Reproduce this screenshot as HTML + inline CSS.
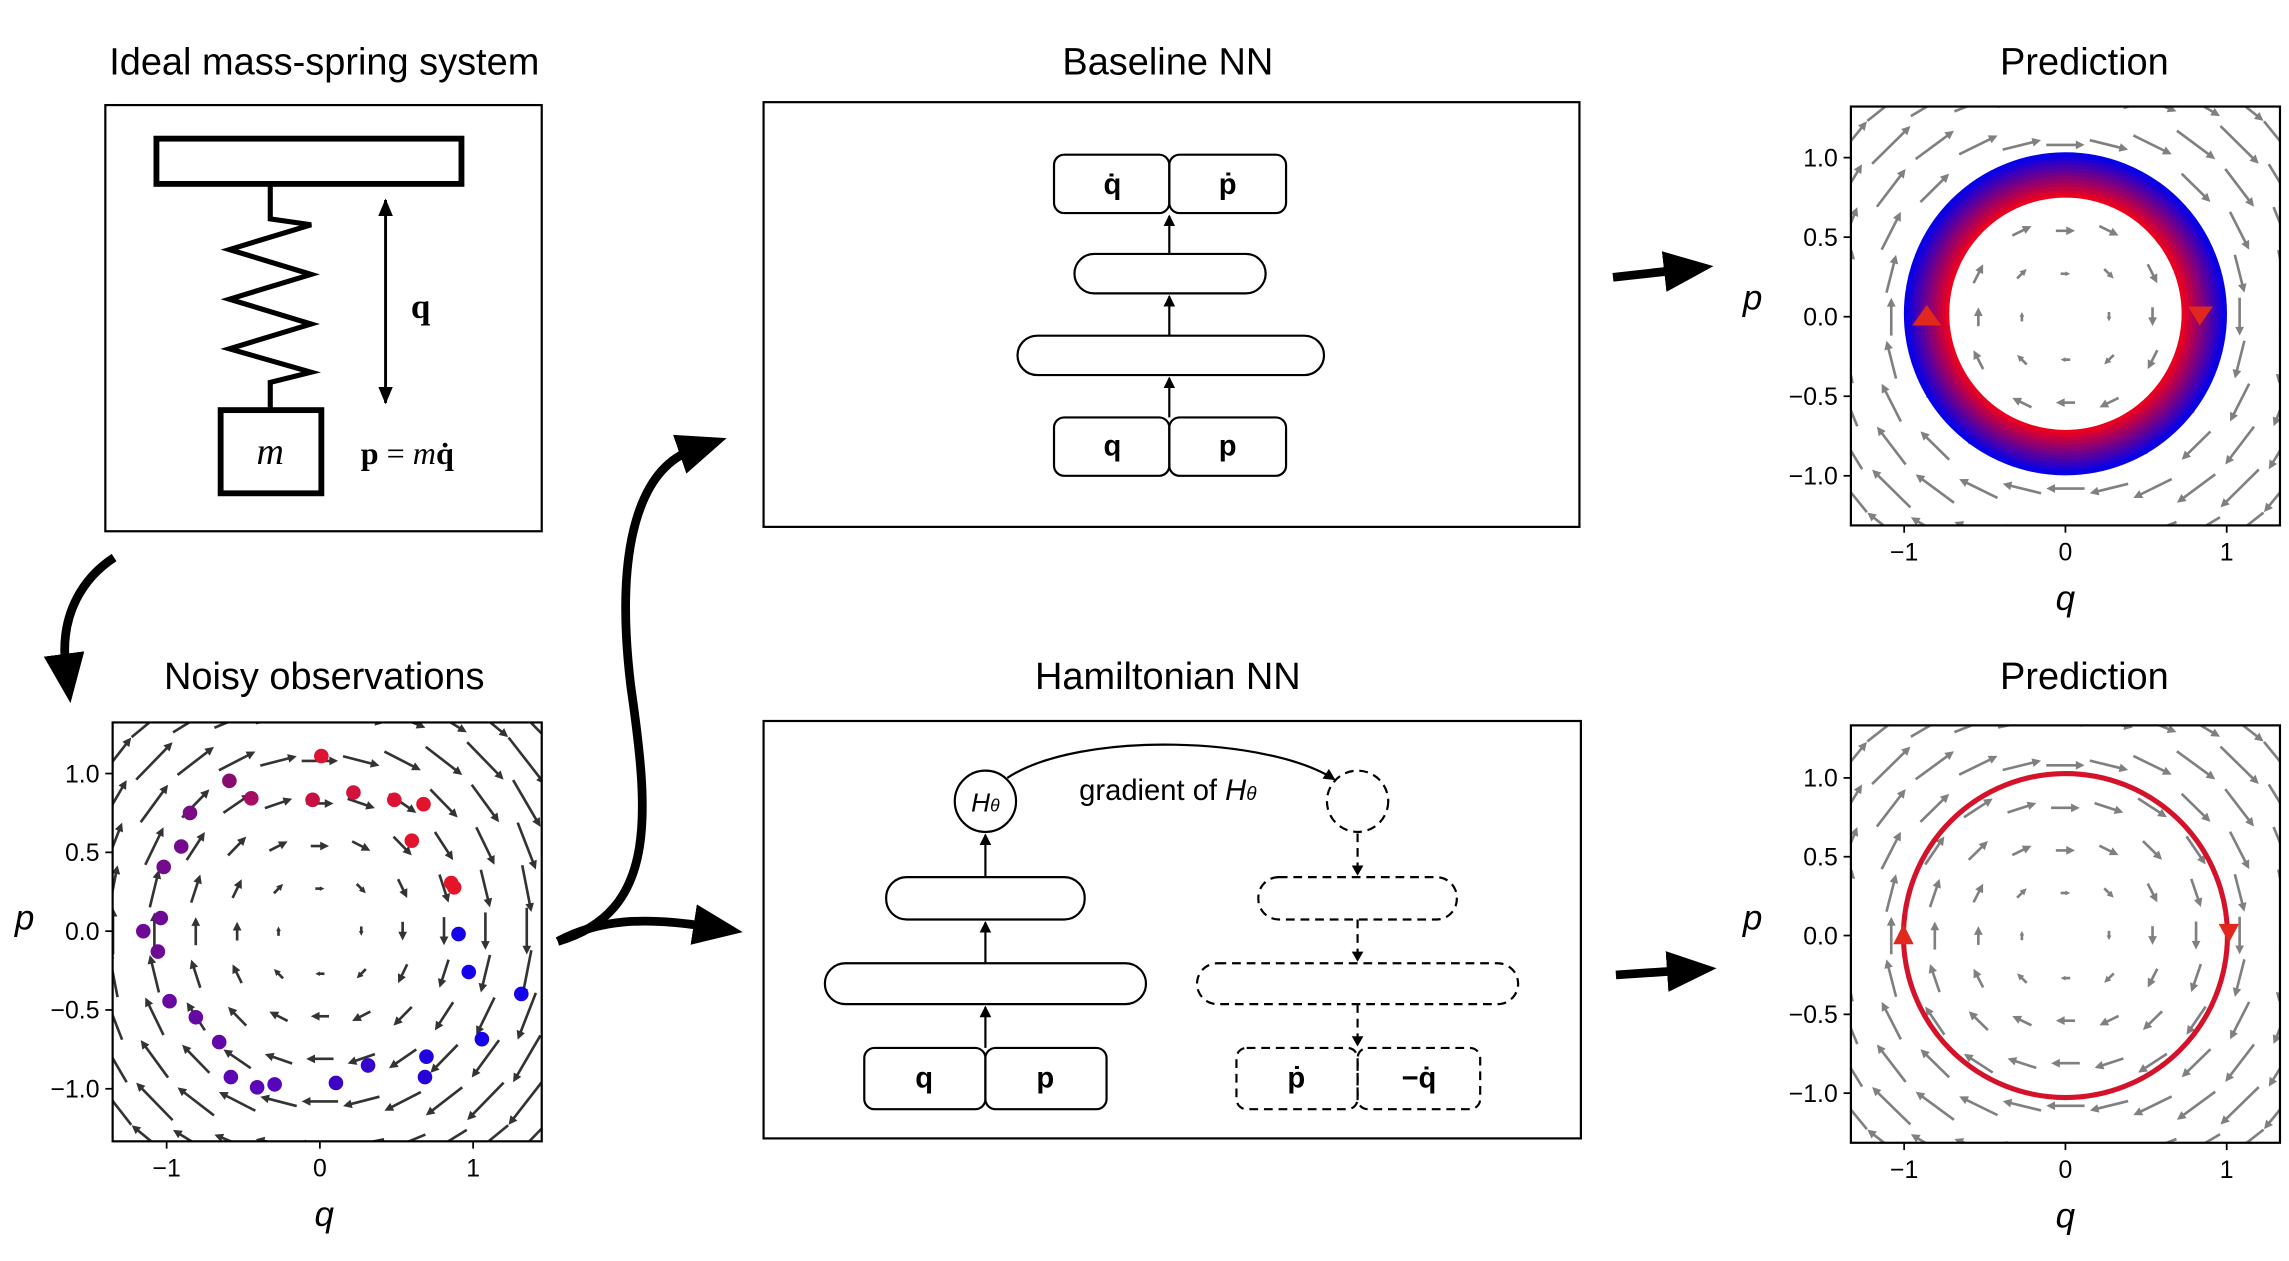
<!DOCTYPE html>
<html><head><meta charset="utf-8"><style>
html,body{margin:0;padding:0;background:#fff;}
svg{display:block;}
text{font-family:"Liberation Sans",sans-serif;}
.t{font-size:26px;text-anchor:middle;}
.tk{font-size:17px;}
.m{font-family:"Liberation Serif",serif;}
</style></head><body>
<svg id="s" width="2289" height="1261" viewBox="0 0 1568 864" xmlns="http://www.w3.org/2000/svg">
<defs>
<marker id="ah" markerWidth="8" markerHeight="8" refX="7" refY="4" orient="auto" markerUnits="userSpaceOnUse"><path d="M0,0 L8,4 L0,8 z" fill="#000"/></marker>
<marker id="ah2" markerWidth="12" markerHeight="12" refX="11" refY="6" orient="auto-start-reverse" markerUnits="userSpaceOnUse"><path d="M0,1 L12,6 L0,11 z" fill="#000"/></marker>
<marker id="big" markerWidth="36" markerHeight="36" refX="10" refY="18" orient="auto" markerUnits="userSpaceOnUse"><path d="M0,4 L34,18 L0,32 z" fill="#000"/></marker>
<clipPath id="c1"><rect x="77" y="495" width="294" height="287"/></clipPath>
<clipPath id="c2"><rect x="1268" y="73" width="294" height="287"/></clipPath>
<clipPath id="c3"><rect x="1268" y="497" width="294" height="286"/></clipPath>
</defs>
<rect width="1568" height="864" fill="#fff"/>

<!-- Mass spring -->
<text class="t" x="222" y="51">Ideal mass-spring system</text>
<rect x="72" y="72" width="299" height="292" fill="none" stroke="#000" stroke-width="1.5"/>
<rect x="107" y="95" width="209" height="31" fill="none" stroke="#000" stroke-width="4"/>
<polyline points="185,126 185,150 213,154 157,171 213,188 157,205 213,222 157,239 213,255 185,262 185,281" fill="none" stroke="#000" stroke-width="3.5"/>
<rect x="151" y="281" width="69" height="57" fill="none" stroke="#000" stroke-width="4"/>
<text class="m" x="185" y="318" font-size="26" font-style="italic" text-anchor="middle">m</text>
<line x1="264" y1="137" x2="264" y2="276" stroke="#000" stroke-width="2" marker-start="url(#ah2)" marker-end="url(#ah2)"/>
<text class="m" x="288" y="218" font-size="24" font-weight="bold" text-anchor="middle">q</text>
<text class="m" x="247" y="318" font-size="22"><tspan font-weight="bold">p</tspan> = <tspan font-style="italic">m</tspan><tspan font-weight="bold">q̇</tspan></text>

<path d="M78,382 C58,395 40,420 45,458" fill="none" stroke="#000" stroke-width="6" marker-end="url(#big)"/>

<!-- Noisy -->
<text class="t" x="222" y="472">Noisy observations</text>
<g id="p1" clip-path="url(#c1)"></g>
<rect x="77" y="495" width="294" height="287" fill="none" stroke="#000" stroke-width="1.5"/>
<text x="222" y="840" font-size="24" font-style="italic" text-anchor="middle">q</text>
<text x="10" y="637" font-size="24" font-style="italic">p</text>

<path d="M382,645 C450,625 445,560 432,470 C420,370 440,320 475,308" fill="none" stroke="#000" stroke-width="6" marker-end="url(#big)"/>
<path d="M382,645 C410,630 440,628 485,635" fill="none" stroke="#000" stroke-width="6" marker-end="url(#big)"/>

<!-- Baseline NN -->
<text class="t" x="800" y="51">Baseline NN</text>
<rect x="523" y="70" width="559" height="291" fill="none" stroke="#000" stroke-width="1.5"/>
<g fill="none" stroke="#000" stroke-width="1.5">
<rect x="722" y="106" width="79" height="40" rx="7"/><rect x="801" y="106" width="80" height="40" rx="7"/>
<rect x="736" y="174" width="131" height="27" rx="13.5"/>
<rect x="697" y="230" width="210" height="27" rx="13.5"/>
<rect x="722" y="286" width="79" height="40" rx="7"/><rect x="801" y="286" width="80" height="40" rx="7"/>
<line x1="801" y1="286" x2="801" y2="259" marker-end="url(#ah)"/>
<line x1="801" y1="230" x2="801" y2="203" marker-end="url(#ah)"/>
<line x1="801" y1="174" x2="801" y2="148" marker-end="url(#ah)"/>
</g>
<g class="m" font-size="20" font-weight="bold" text-anchor="middle">
<text x="762" y="133">q̇</text><text x="841" y="133">ṗ</text>
<text x="762" y="312">q</text><text x="841" y="312">p</text>
</g>

<!-- Hamiltonian NN -->
<text class="t" x="800" y="472">Hamiltonian NN</text>
<rect x="523" y="494" width="560" height="286" fill="none" stroke="#000" stroke-width="1.5"/>
<g fill="none" stroke="#000" stroke-width="1.5">
<circle cx="675" cy="549" r="21"/>
<rect x="607" y="601" width="136" height="29" rx="14"/>
<rect x="565" y="660" width="220" height="28" rx="14"/>
<rect x="592" y="718" width="83" height="42" rx="7"/><rect x="675" y="718" width="83" height="42" rx="7"/>
<line x1="675" y1="718" x2="675" y2="690" marker-end="url(#ah)"/>
<line x1="675" y1="660" x2="675" y2="632" marker-end="url(#ah)"/>
<line x1="675" y1="601" x2="675" y2="572" marker-end="url(#ah)"/>
<path d="M690,533 C740,500 870,505 914,534" marker-end="url(#ah)"/>
<g stroke-dasharray="6,4">
<circle cx="930" cy="549" r="21"/>
<rect x="862" y="601" width="136" height="29" rx="14"/>
<rect x="820" y="660" width="220" height="28" rx="14"/>
<rect x="847" y="718" width="83" height="42" rx="7"/><rect x="930" y="718" width="84" height="42" rx="7"/>
<line x1="930" y1="571" x2="930" y2="599"/>
<line x1="930" y1="630" x2="930" y2="658"/>
<line x1="930" y1="688" x2="930" y2="716"/>
</g>
<path d="M926,593 L930,600 L934,593" fill="#000" stroke="none"/>
<path d="M926,652 L930,659 L934,652" fill="#000" stroke="none"/>
<path d="M926,710 L930,717 L934,710" fill="#000" stroke="none"/>
</g>
<g class="m" font-size="20" text-anchor="middle">
<text x="675" y="556" font-style="italic" font-size="18">H<tspan font-size="12">θ</tspan></text>
<text x="800" y="548">gradient of <tspan font-style="italic">H</tspan><tspan font-style="italic" font-size="13">θ</tspan></text>
<text x="633" y="745" font-weight="bold">q</text><text x="716" y="745" font-weight="bold">p</text>
<text x="888" y="745" font-weight="bold">ṗ</text><text x="972" y="745" font-weight="bold">−q̇</text>
</g>

<line x1="1105" y1="190" x2="1150" y2="185" stroke="#000" stroke-width="6" marker-end="url(#big)"/>
<line x1="1107" y1="668" x2="1152" y2="665" stroke="#000" stroke-width="6" marker-end="url(#big)"/>

<!-- Predictions -->
<text class="t" x="1428" y="51">Prediction</text>
<g id="p2" clip-path="url(#c2)"></g>
<rect x="1268" y="73" width="294" height="287" fill="none" stroke="#000" stroke-width="1.5"/>
<text x="1415" y="418" font-size="24" font-style="italic" text-anchor="middle">q</text>
<text x="1194" y="212" font-size="24" font-style="italic">p</text>

<text class="t" x="1428" y="472">Prediction</text>
<g id="p3" clip-path="url(#c3)"></g>
<rect x="1268" y="497" width="294" height="286" fill="none" stroke="#000" stroke-width="1.5"/>
<text x="1415" y="841" font-size="24" font-style="italic" text-anchor="middle">q</text>
<text x="1194" y="637" font-size="24" font-style="italic">p</text>
</svg>
<script>
var NS="http://www.w3.org/2000/svg";
function el(p,t,a){var e=document.createElementNS(NS,t);for(var k in a)e.setAttribute(k,a[k]);p.appendChild(e);return e;}
function plot(id,x0,y0,sx,sy,L,T,R,B,col){
 var g=document.getElementById(id);
 for(var i=0;i<11;i++)for(var j=0;j<11;j++){
  var q=-1.35+i*0.27,p=-1.35+j*0.27;
  var dq=p*0.22,dp=-q*0.22;
  var cx=x0+q*sx,cy=y0-p*sy;
  var vx=dq*sx,vy=-dp*sy;
  var len=Math.sqrt(vx*vx+vy*vy); if(len<0.5)continue;
  var ax=cx-vx/2,ay=cy-vy/2,bx=cx+vx/2,by=cy+vy/2;
  var ux=vx/len,uy=vy/len,h=Math.min(6,len*0.5);
  el(g,"line",{x1:ax,y1:ay,x2:bx-ux*h*0.8,y2:by-uy*h*0.8,stroke:col,"stroke-width":1.8});
  el(g,"path",{d:"M"+bx+","+by+" L"+(bx-ux*h-uy*h*0.5)+","+(by-uy*h+ux*h*0.5)+" L"+(bx-ux*h+uy*h*0.5)+","+(by-uy*h-ux*h*0.5)+"z",fill:col});
 }
 var s=document.getElementById("s");
 [-1,0,1].forEach(function(v){var x=x0+v*sx;el(s,"line",{x1:x,y1:B,x2:x,y2:B+5,stroke:"#000","stroke-width":1.2});
  var t=el(s,"text",{x:x,y:B+24,"font-size":17,"text-anchor":"middle"});t.textContent=(v<0?"\u22121":String(v));});
 [1,0.5,0,-0.5,-1].forEach(function(v){var y=y0-v*sy;el(s,"line",{x1:L-5,y1:y,x2:L,y2:y,stroke:"#000","stroke-width":1.2});
  var t=el(s,"text",{x:L-9,y:y+6,"font-size":17,"text-anchor":"end"});t.textContent=(v<0?"\u2212":"")+Math.abs(v).toFixed(1);});
}
plot("p1",219,638,105,108,77,495,371,782,"#333");
plot("p2",1415,217,110.5,109,1268,73,1562,360,"#808080");
plot("p3",1415,641,110.5,108,1268,497,1562,783,"#808080");
var g1=document.getElementById("p1");
var dots=[[220,518,0.05],[157,535,0.35],[172,547,0.3],[214,548,0.15],[242,543,0.1],[270,548,0.05],[290,551,0.02],[130,557,0.45],[282,576,0.02],[124,580,0.5],[309,605,0],[311,608,0],[112,594,0.5],[314,640,1],[110,629,0.55],[98,638,0.55],[321,666,1],[108,652,0.55],[357,681,1],[116,686,0.6],[134,697,0.62],[150,714,0.65],[330,712,1],[158,738,0.7],[292,724,0.95],[176,745,0.72],[188,743,0.74],[230,742,0.8],[252,730,0.85],[291,738,0.9]];
dots.forEach(function(d){var t=d[2];var r=Math.round(230*(1-t)+20*t),b=Math.round(40*(1-t)+235*t),gg=Math.round(20*(1-t));
 if(t>0.3&&t<0.8){r=Math.round(140-(t-0.3)*120);b=Math.round(100+(t-0.3)*200);}
 el(g1,"circle",{cx:d[0],cy:d[1],r:5,fill:"rgb("+r+","+gg+","+b+")"});});
var g2=document.getElementById("p2");
for(var k=0;k<12;k++){var t=k/11;var rr=0.74+t*0.25;
 el(g2,"circle",{cx:1415,cy:215,r:rr*110,fill:"none",stroke:"rgb("+Math.round(235*(1-t)+10*t)+",0,"+Math.round(30*(1-t)+230*t)+")","stroke-width":3.6});}
el(g2,"path",{d:"M1310,223 L1320,209 L1330,223z",fill:"#e0281e"});
el(g2,"path",{d:"M1499,210 L1516,210 L1507,223z",fill:"#e0281e"});
var g3=document.getElementById("p3");
el(g3,"circle",{cx:1415,cy:641,r:111,fill:"none",stroke:"#d4122a","stroke-width":3.5});
el(g3,"path",{d:"M1297,647 L1304,633 L1311,647z",fill:"#e0281e"});
el(g3,"path",{d:"M1520,633 L1534,633 L1527,646z",fill:"#e0281e"});
</script>
</body></html>
